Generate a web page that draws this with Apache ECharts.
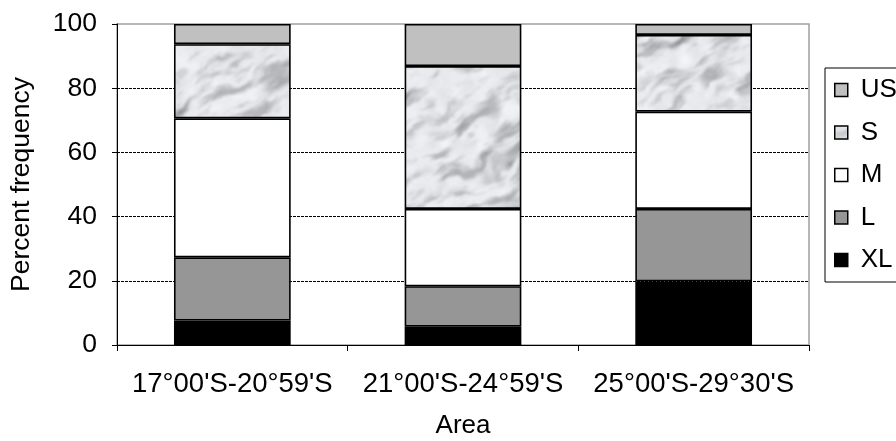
<!DOCTYPE html>
<html>
<head>
<meta charset="utf-8">
<script src="https://cdn.jsdelivr.net/npm/echarts@6/dist/echarts.min.js"></script>
<style>
  html, body { margin: 0; padding: 0; background: #fff; }
  #chart { width: 896px; height: 441px; }
</style>
</head>
<body>
<div id="chart"></div>
<script>
// Size-class composition of catches per latitude band (percent)
const areas = ["17°00'S-20°59'S", "21°00'S-24°59'S", "25°00'S-29°30'S"];
const xl = [7.6, 5.7, 19.8];
const l  = [19.7, 12.6, 22.6];
const m  = [43.3, 24.1, 30.3];
const s  = [23.1, 44.5, 23.9];
const us = [6.3, 13.1, 3.4];
const yTicks = [0, 20, 40, 60, 80, 100];

// Soft grey marble fill for the "S" class; large enough that no bar crosses a tile edge
function marbleCanvas(w, h) {
  const raw = document.createElement('canvas');
  raw.width = w; raw.height = h;
  const rctx = raw.getContext('2d');
  const img = rctx.createImageData(w, h);
  function hash(i, j) {
    let t = Math.imul(i, 374761393) + Math.imul(j, 668265263);
    t = Math.imul(t ^ (t >>> 13), 1274126177);
    t = t ^ (t >>> 16);
    return (t >>> 0) / 4294967295;
  }
  function smooth(t) { return t * t * (3 - 2 * t); }
  function noise(x, y) {
    const xi = Math.floor(x), yi = Math.floor(y);
    const fx = smooth(x - xi), fy = smooth(y - yi);
    const a = hash(xi, yi), b = hash(xi + 1, yi);
    const c = hash(xi, yi + 1), d = hash(xi + 1, yi + 1);
    const top = a + (b - a) * fx, bot = c + (d - c) * fx;
    return top + (bot - top) * fy;
  }
  function fbm(x, y) {
    let v = 0, amp = 0.5, f = 1;
    for (let o = 0; o < 4; o++) { v += amp * noise(x * f, y * f); amp *= 0.5; f *= 2; }
    return v;
  }
  function sstep(a, b, v) { const t = Math.max(0, Math.min(1, (v - a) / (b - a))); return t * t * (3 - 2 * t); }
  for (let y = 0; y < h; y++) {
    for (let x = 0; x < w; x++) {
      // coordinates along / across the diagonal grain (rising to the right)
      const u = 0.866 * x - 0.5 * y;
      const v = 0.5 * x + 0.866 * y;
      const warp = fbm(x / 30 + 3, y / 30 + 9) - 0.5;
      const grainA = fbm(u / 34, v / 10 + warp * 2.5);
      const grainB = fbm(u / 20 + 50, v / 6 + 20 + warp * 2);
      const streak = sstep(0.44, 0.74, grainA) * 0.8 + sstep(0.55, 0.78, grainB) * 0.4;
      const cloud = fbm(x / 12 + 40, y / 12 + 17) - 0.5;
      const speck = (hash(x + 999, y + 333) - 0.5) * 8;
      let g = 233 - streak * 70 - cloud * 26 + speck;
      g = Math.max(140, Math.min(248, g));
      const i = (y * w + x) * 4;
      img.data[i] = g; img.data[i + 1] = g + 1; img.data[i + 2] = g + 4; img.data[i + 3] = 255;
    }
  }
  rctx.putImageData(img, 0, 0);
  const out = document.createElement('canvas');
  out.width = w; out.height = h;
  const octx = out.getContext('2d');
  octx.filter = 'blur(0.8px)';
  octx.drawImage(raw, 0, 0);
  return out;
}
const marble = { image: marbleCanvas(900, 450), repeat: 'repeat' };

const font = 'Liberation Sans, Arial, sans-serif';
const border = { borderColor: '#000', borderWidth: 1.6 };

function bar(name, data, color) {
  return {
    name: name, type: 'bar', stack: 'total', data: data,
    barWidth: '50.6%',
    itemStyle: Object.assign({ color: color }, border),
    emphasis: { disabled: true }
  };
}

const chart = echarts.init(document.getElementById('chart'), null, { renderer: 'canvas' });
chart.setOption({
  animation: false,
  backgroundColor: '#fff',
  textStyle: { fontFamily: font },
  grid: {
    left: 117, right: 87, top: 24, bottom: 96,
    containLabel: false, outerBoundsMode: 'none',
    show: true, borderColor: '#a0a0a0', borderWidth: 1.5, backgroundColor: 'transparent'
  },
  legend: {
    orient: 'vertical',
    left: 825, top: 68,
    data: ['US', 'S', 'M', 'L', 'XL'],
    itemWidth: 13, itemHeight: 13, itemGap: 16.5,
    padding: [9, 30, 9, 9],
    borderColor: '#000', borderWidth: 1,
    icon: 'rect',
    itemStyle: { borderColor: '#000', borderWidth: 1.5 },
    textStyle: { fontFamily: font, fontSize: 26, color: '#000', lineHeight: 26, padding: [0, 0, 0, 8] },
    selectedMode: false
  },
  xAxis: {
    type: 'category',
    data: areas,
    name: 'Area', nameLocation: 'middle', nameGap: 68,
    nameTextStyle: { fontFamily: font, fontSize: 26, color: '#000' },
    axisLine: { lineStyle: { color: '#000', width: 1 } },
    axisTick: { show: true, length: 6, lineStyle: { color: '#000' } },
    axisLabel: { fontFamily: font, fontSize: 27.5, color: '#000', margin: 25, interval: 0 },
    splitLine: { show: false }
  },
  yAxis: {
    type: 'value',
    min: yTicks[0], max: yTicks[yTicks.length - 1], interval: yTicks[1] - yTicks[0],
    name: 'Percent frequency', nameLocation: 'middle', nameGap: 82,
    nameTextStyle: { fontFamily: font, fontSize: 26.5, color: '#000' },
    axisLine: { show: true, lineStyle: { color: '#000', width: 1 } },
    axisTick: { show: true, length: 5, lineStyle: { color: '#000' } },
    axisLabel: { fontFamily: font, fontSize: 26.5, color: '#000', margin: 20 },
    splitLine: {
      show: true,
      lineStyle: {
        color: ['rgba(0,0,0,0)', '#000', '#000', '#000', '#000', 'rgba(0,0,0,0)'],
        type: [3, 1], width: 1
      }
    }
  },
  series: [
    bar('XL', xl, '#000000'),
    bar('L', l, '#969696'),
    bar('M', m, '#ffffff'),
    bar('S', s, marble),
    bar('US', us, '#c0c0c0')
  ]
});
</script>
</body>
</html>
